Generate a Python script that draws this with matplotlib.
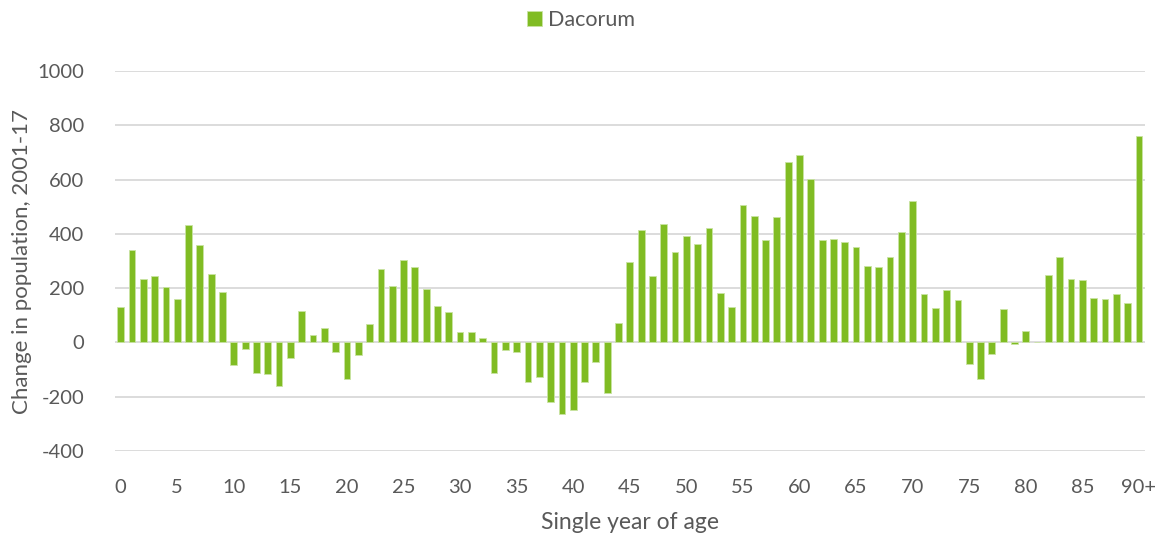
import matplotlib.pyplot as plt
import numpy as np

# change in population 2001-17 by single year of age (0..89, 90+)
ages = [str(a) for a in range(90)] + ['90+']
change = [130, 342, 232, 244, 203, 161, 431, 360, 253, 184,
          -85, -26, -114, -118, -160, -59, 117, 27, 53, -37,
          -135, -48, 68, 270, 209, 302, 278, 197, 134, 113,
          37, 38, 17, -111, -29, -36, -145, -127, -220, -265,
          -248, -146, -72, -187, 72, 296, 416, 243, 436, 333,
          392, 364, 423, 182, 130, 506, 464, 376, 461, 663,
          692, 601, 377, 381, 369, 353, 281, 278, 314, 408,
          521, 177, 127, 192, 156, -81, -135, -44, 124, -6,
          42, 0, 248, 316, 233, 230, 163, 160, 179, 146,
          759]
tick_pos = list(range(0, 91, 5))
tick_labels = [ages[i] for i in tick_pos]

green = '#80BC23'
grey_text = '#595959'

plt.rcParams['font.family'] = ['Lato', 'DejaVu Sans']
plt.rcParams['axes.unicode_minus'] = False

fig = plt.figure(figsize=(11.62, 5.36), dpi=100)
ax = fig.add_axes([0.099, 0.1586, 0.886, 0.7089])

x = np.arange(len(ages))
ax.bar(x, change, width=0.6, color=green, edgecolor='#C9E3A3', linewidth=0.6,
       label='Dacorum', zorder=3)

ax.set_xlim(-0.5, len(ages) - 0.5)
ax.set_ylim(-400, 1000)
ax.set_yticks(range(-400, 1001, 200))
ax.set_xticks(tick_pos)
ax.set_xticklabels(tick_labels)
ax.grid(axis='y', color='#D9D9D9', linewidth=1.3, zorder=0)
ax.tick_params(length=0, labelsize=14.5, labelcolor=grey_text)
ax.tick_params(axis='x', pad=20)
ax.tick_params(axis='y', pad=22)
for s in ax.spines.values():
    s.set_visible(False)

ax.set_xlabel('Single year of age', fontsize=16.5, color=grey_text, labelpad=12)
ax.set_ylabel('Change in population, 2001-17', fontsize=16, color=grey_text, labelpad=4)

fig.legend(loc='upper center', bbox_to_anchor=(0.5, 1.017), frameon=False,
           fontsize=15.5, labelcolor=grey_text, handlelength=0.7, handleheight=0.7,
           handletextpad=0.3)

fig.savefig('out.png', dpi=100)
